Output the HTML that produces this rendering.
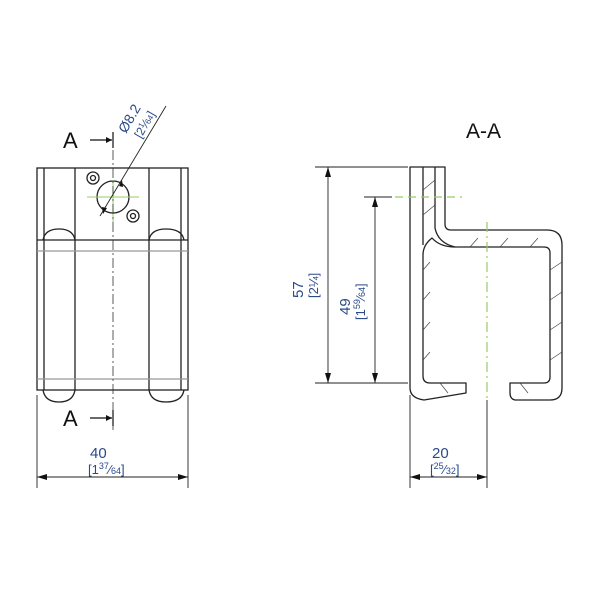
<!DOCTYPE html>
<html><head><style>html,body{margin:0;padding:0;background:#fff}svg{display:block}</style></head>
<body>
<svg width="600" height="600" viewBox="0 0 600 600" xmlns="http://www.w3.org/2000/svg" font-family="Liberation Sans, sans-serif">
<defs>
<marker id="ar" markerWidth="10" markerHeight="6" refX="10" refY="3" orient="auto-start-reverse" markerUnits="userSpaceOnUse"><path d="M0,0 L10,3 L0,6z" fill="#111"/></marker>
</defs>
<g fill="none" stroke="#222" stroke-width="1.3">
<rect x="37" y="168" width="151" height="222"/>
<line x1="44" y1="168" x2="44" y2="390"/>
<line x1="181" y1="168" x2="181" y2="390"/>
<line x1="75" y1="168" x2="75" y2="390"/>
<line x1="149" y1="168" x2="149" y2="390"/>
<path d="M43,240 Q45,229 59,229 Q73,229 75,240"/>
<path d="M149,240 Q151,229 166,229 Q182,229 184,240"/>
<line x1="37" y1="240" x2="188" y2="240"/>
<line x1="37" y1="251" x2="188" y2="251" stroke="#999"/>
<line x1="37" y1="379" x2="188" y2="379" stroke="#999"/>
<path d="M43,390 Q45,402 59,402 Q73,402 75,390"/>
<path d="M149,390 Q151,402 166,402 Q182,402 184,390"/>
<circle cx="113" cy="197" r="16"/>
<circle cx="93" cy="178" r="6"/><circle cx="93" cy="178" r="2.5"/>
<circle cx="133" cy="216" r="6"/><circle cx="133" cy="216" r="2.5"/>
</g>
<g stroke="#9c6" stroke-width="1">
<line x1="87" y1="197" x2="139" y2="197"/><line x1="113" y1="180" x2="113" y2="222"/>
</g>
<line x1="113" y1="150" x2="113" y2="430" stroke="#333" stroke-width="0.8" stroke-dasharray="10,3,2,3"/>
<line x1="100" y1="216" x2="166" y2="106" stroke="#222" stroke-width="0.9"/>
<path d="M119,186 L122,180 L123,187z M107,208 L103,214 L102,207z" fill="#111"/>
<g stroke="#111" stroke-width="1.2"><line x1="90" y1="140" x2="112" y2="140"/><line x1="113" y1="132" x2="113" y2="148"/>
<line x1="90" y1="418" x2="112" y2="418"/><line x1="113" y1="410" x2="113" y2="426"/></g>
<path d="M112,140 l-6,-3 v6z M112,418 l-6,-3 v6z" fill="#111"/>
<text x="63" y="148" font-size="22" fill="#111">A</text>
<text x="63" y="426" font-size="22" fill="#111">A</text>
<g fill="#2a4a8a">
<text transform="translate(126,134) rotate(-60)" font-size="14">Ø8.2</text>
<text transform="translate(141,139) rotate(-60)" font-size="12">[2<tspan font-size="8" dy="-4">1</tspan><tspan dy="4">⁄</tspan><tspan font-size="8">64</tspan>]</text>
</g>
<g stroke="#222" stroke-width="0.9">
<line x1="37" y1="395" x2="37" y2="488"/><line x1="188" y1="395" x2="188" y2="488"/>
<line x1="37" y1="477" x2="188" y2="477" marker-start="url(#ar)" marker-end="url(#ar)"/>
<line x1="410" y1="395" x2="410" y2="488"/><line x1="487" y1="400" x2="487" y2="488"/>
<line x1="410" y1="477" x2="487" y2="477" marker-start="url(#ar)" marker-end="url(#ar)"/>
<line x1="315" y1="167" x2="408" y2="167"/><line x1="315" y1="383" x2="408" y2="383"/>
<line x1="328" y1="167" x2="328" y2="383" marker-start="url(#ar)" marker-end="url(#ar)"/>
<line x1="364" y1="197" x2="392" y2="197"/>
<line x1="375" y1="197" x2="375" y2="383" marker-start="url(#ar)" marker-end="url(#ar)"/>
</g>
<g fill="#2a4a8a">
<text x="90" y="458" font-size="15">40</text>
<text x="88" y="474" font-size="13">[1<tspan font-size="9" dy="-5">37</tspan><tspan dy="5">⁄</tspan><tspan font-size="9">64</tspan>]</text>
<text x="432" y="458" font-size="15">20</text>
<text x="430" y="474" font-size="13">[<tspan font-size="9" dy="-5">25</tspan><tspan dy="5">⁄</tspan><tspan font-size="9">32</tspan>]</text>
<text transform="translate(303,298) rotate(-90)" font-size="15">57</text>
<text transform="translate(318,298) rotate(-90)" font-size="13">[2¼]</text>
<text transform="translate(350,315) rotate(-90)" font-size="15">49</text>
<text transform="translate(365,320) rotate(-90)" font-size="13">[1<tspan font-size="9" dy="-5">59</tspan><tspan dy="5">⁄</tspan><tspan font-size="9">64</tspan>]</text>
</g>
<text x="466" y="138" font-size="21" fill="#111">A-A</text>
<!-- section -->
<g fill="none" stroke="#222" stroke-width="1.3" stroke-linejoin="round">
<path d="M410,167 L445,167 L445,224 Q445,230 451,230 L547,230 Q562,230 562,245 L562,388 Q562,400 550,400 L515,400 Q510,399 510,393 L510,383 L544,383 Q550,383 550,377 L550,253 Q550,247 544,247 L455,247 Q440,247 432,238 Q423,245 423,255 L423,376 Q423,383 430,383 L466,383 L466,393 L424,400 Q410,398 410,388 Z"/>
<path d="M423,167 L423,245 M435,167 L435,228 Q438,243 455,247"/>
</g>
<g stroke="#444" stroke-width="0.7">
<path d="M423,190 L435,180 M423,215 L435,205 M423,270 L430,262 M423,300 L430,292 M423,330 L430,322 M423,360 L430,352 M470,247 L478,238 M500,247 L508,238 M530,247 L538,238 M550,270 L562,262 M550,300 L562,292 M550,330 L562,322 M550,360 L562,352 M440,383 L448,393 M520,383 L528,393"/>
</g>
<line x1="395" y1="197" x2="462" y2="197" stroke="#9c6" stroke-width="1.2" stroke-dasharray="8,5"/>
<line x1="487" y1="222" x2="487" y2="398" stroke="#9c6" stroke-width="1.2" stroke-dasharray="10,4,2,4"/>
</svg>
</body></html>
